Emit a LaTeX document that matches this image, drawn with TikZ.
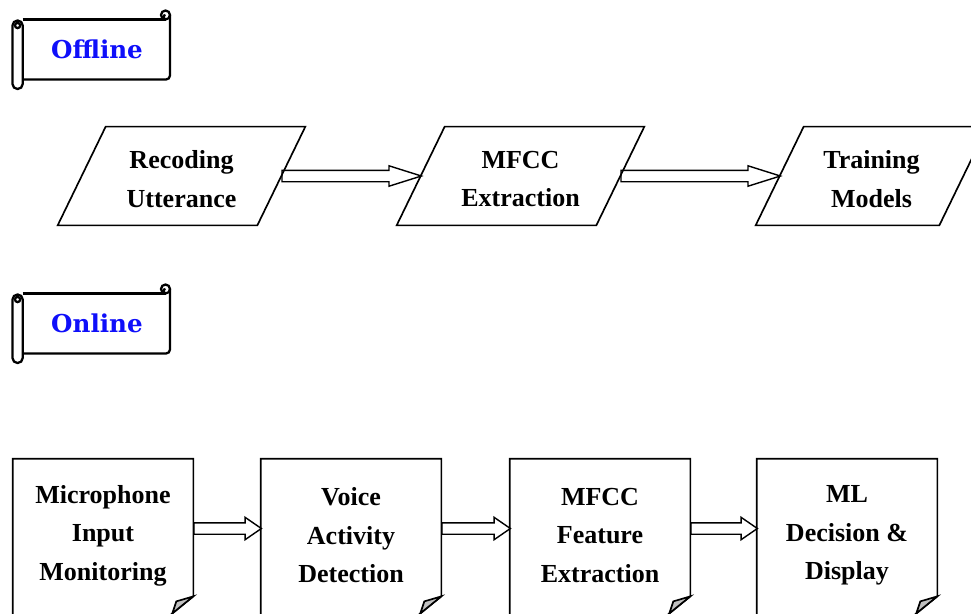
\documentclass[tikz,border=0pt]{standalone}
\usepackage{fontspec}
\setmainfont{Liberation Serif}
\newfontfamily\bannerfont{DejaVu Serif}
\usetikzlibrary{shapes.arrows, calc}
\definecolor{bannerBlue}{RGB}{15,15,250}
\definecolor{foldGray}{RGB}{192,192,192}

\tikzset{
  stage/.style={minimum width=3.98cm, minimum height=1.96cm, inner sep=0pt, align=center,
    font={\bfseries\fontsize{14.8}{21.8}\selectfont}},
  doc/.style={minimum width=3.6cm, minimum height=3.06cm, inner sep=0pt, align=center,
    font={\bfseries\fontsize{14.8}{21.9}\selectfont}},
  boxline/.style={line width=0.95pt},
  banner/.style={minimum width=2.96cm, minimum height=1.2cm, text=bannerBlue,
    font={\bannerfont\bfseries\fontsize{14}{16}\selectfont}},
  scrollline/.style={line width=1.3pt},
  longarrow/.style={single arrow, draw, line width=0.8pt, inner xsep=0pt, inner ysep=0.1cm,
    single arrow head extend=0.09cm, single arrow tip angle=35, anchor=tail},
  shortarrow/.style={single arrow, draw, line width=0.8pt, inner xsep=0pt, inner ysep=0.1cm,
    single arrow head extend=0.11cm, single arrow tip angle=69, anchor=tail}
}

\begin{document}
\begin{tikzpicture}[x=0.02cm, y=-0.02cm]
  \useasboundingbox (0,0) rectangle (971,613);

  % banners
  \node[banner] (off) at (97,49.5) {Offline};
  \node[banner] (on) at (97,323.5) {Online};
  \foreach \b in {off,on} {
    \begin{scope}[shift={(\b.center)}, scrollline]
      % body with curl at top right
      \draw (-74.3,-30) -- (68.5,-30);
      \draw (68.5,-34.5) circle (4.5);
      \draw (68.5,-30.5) arc[start angle=90, end angle=270, radius=2];
      \draw[rounded corners=0.08cm] (73,-34.5) -- (73,30) -- (-74.3,30);
      % roll on the left
      \draw[rounded corners=0.1cm] (-84.5,-29) rectangle (-74.3,39.5);
      \draw (-79.4,-24) circle (2.6);
    \end{scope}
  }

  % offline chain (parallelograms)
  \node[stage] (rec) at (181.5,179) {Recoding\\Utterance};
  \node[stage] (mfcc) at (520.5,179) {MFCC\\Extraction};
  \node[stage, minimum width=3.66cm] (train) at (871.5,179) {Training\\Models};
  \foreach \s in {rec,mfcc,train}
    \draw[boxline] ([xshift=-0.48cm,yshift=0.06cm]\s.south west) -- ([xshift=0.48cm,yshift=0.06cm]\s.north west)
      -- ([xshift=0.48cm,yshift=0.06cm]\s.north east) -- ([xshift=-0.48cm,yshift=0.06cm]\s.south east) -- cycle;
  \foreach \a/\b in {rec/mfcc, mfcc/train}
    \path let \p1=($(\b.west)-(\a.east)$) in
      ([yshift=0.06cm]\a.east) node[longarrow, minimum height={veclen(\x1,\y1)}] {};

  % online chain (folded pages)
  \node[doc] (mic) at (103,535.5) {Microphone\\Input\\Monitoring};
  \node[doc] (vad) at (351,535.5) {Voice\\Activity\\Detection};
  \node[doc] (feat) at (600,535.5) {MFCC\\Feature\\Extraction};
  \node[doc] (ml) at (847,535.5) {ML\\Decision \&\\Display};
  \foreach \d in {mic,vad,feat,ml} {
    \draw[boxline] ([yshift=-0.16cm]\d.south west) -- (\d.north west) -- (\d.north east)
      -- ([yshift=0.32cm]\d.south east) -- ([xshift=-0.59cm,yshift=-0.16cm]\d.south east);
    % folded corner
    \draw[boxline, fill=foldGray] ([yshift=0.32cm]\d.south east)
      .. controls ([xshift=-0.2cm,yshift=0.26cm]\d.south east) .. ([xshift=-0.34cm,yshift=0.22cm]\d.south east)
      -- ([xshift=-0.42cm,yshift=-0.02cm]\d.south east) -- cycle;
  }
  \foreach \a/\b in {mic/vad, vad/feat, feat/ml}
    \path let \p1=($(\b.west)-(\a.east)$) in
      ([yshift=0.14cm]\a.east) node[shortarrow, minimum height={veclen(\x1,\y1)}] {};
\end{tikzpicture}
\end{document}
